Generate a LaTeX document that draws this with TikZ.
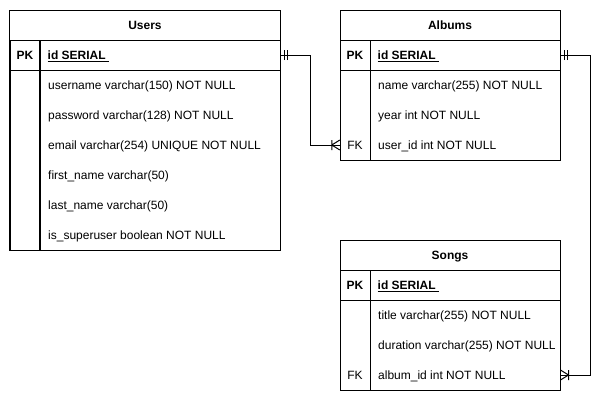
\documentclass[tikz,border=0pt]{standalone}
\usepackage{fontspec}
\setmainfont{Liberation Sans}
\usepackage{tikz}
\usetikzlibrary{positioning,decorations.markings}
\newcommand{\tblfont}{\fontsize{12bp}{14bp}\selectfont}
\tikzset{
  tblhead/.style={draw, line width=1bp, minimum height=30bp, font=\tblfont\bfseries, inner sep=0pt, text height=10bp, text depth=1.5bp},
  cell/.style={draw, line width=1bp, inner sep=0pt},
  keycell/.style={minimum width=30bp, minimum height=30bp, inner sep=0pt, text height=10bp, text depth=1.5bp},
  keybold/.style={font=\tblfont\bfseries},
  field/.style={anchor=west, inner sep=0pt, text height=10bp, text depth=1.5bp},
  pkfield/.style={field, font=\tblfont\bfseries},
  conn/.style={line width=1bp},
  mandone/.style={postaction={decorate, decoration={markings,
      mark=at position 4bp with {\draw[line width=1bp] (0,-5bp) -- (0,5bp);},
      mark=at position 7bp with {\draw[line width=1bp] (0,-5bp) -- (0,5bp);}}}},
  onemany/.style={postaction={decorate, decoration={markings,
      mark=at position -8bp with {\draw[line width=1bp] (0,-5bp) -- (0,5bp) (0,0) -- (8bp,5bp) (0,0) -- (8bp,-5bp);}}}}
}
\begin{document}
\begin{tikzpicture}[x=1bp, y=-1bp, font=\tblfont]
\useasboundingbox (0,0) rectangle (610,401);
% Users
\node[tblhead, minimum width=270bp] (users) at (145,25) {Users};
\node[cell, keycell, keybold] (upkk) at (25,55) {PK};
\node[cell, minimum width=240bp, minimum height=30bp] (upk) at (160,55) {};
\node[pkfield, right=8bp of upk.west] (upkname) {\underline{id SERIAL\ }};
\node[cell, keycell, minimum height=180bp] (ukeys) at (25,160) {};
\node[cell, minimum width=240bp, minimum height=180bp] (ubody) at (160,160) {};
\node[field] (u1) at (48,85) {username varchar(150) NOT NULL};
\node[field] (u2) at (48,115) {password varchar(128) NOT NULL};
\node[field] (u3) at (48,145) {email varchar(254) UNIQUE NOT NULL};
\node[field] (u4) at (48,175) {first\_name varchar(50)};
\node[field] (u5) at (48,205) {last\_name varchar(50)};
\node[field] (u6) at (48,235) {is\_superuser boolean NOT NULL};
% Albums
\node[tblhead, minimum width=220bp] (albums) at (450,25) {Albums};
\node[cell, keycell, keybold] (apkk) at (355,55) {PK};
\node[cell, minimum width=190bp, minimum height=30bp] (apk) at (465,55) {};
\node[pkfield, right=8bp of apk.west] (apkname) {\underline{id SERIAL\ }};
\node[cell, keycell, minimum height=90bp] (akeys) at (355,115) {};
\node[cell, minimum width=190bp, minimum height=90bp] (abody) at (465,115) {};
\node[field] (a1) at (378,85) {name varchar(255) NOT NULL};
\node[field] (a2) at (378,115) {year int NOT NULL};
\node[field] (a3) at (378,145) {user\_id int NOT NULL};
\node[keycell] (afk) at (355,145) {FK};
% Songs
\node[tblhead, minimum width=220bp] (songs) at (450,255) {Songs};
\node[cell, keycell, keybold] (spkk) at (355,285) {PK};
\node[cell, minimum width=190bp, minimum height=30bp] (spk) at (465,285) {};
\node[pkfield, right=8bp of spk.west] (spkname) {\underline{id SERIAL\ }};
\node[cell, keycell, minimum height=90bp] (skeys) at (355,345) {};
\node[cell, minimum width=190bp, minimum height=90bp] (sbody) at (465,345) {};
\node[field] (s1) at (378,315) {title varchar(255) NOT NULL};
\node[field] (s2) at (378,345) {duration varchar(255) NOT NULL};
\node[field] (s3) at (378,375) {album\_id int NOT NULL};
\node[keycell] (sfk) at (355,375) {FK};
% relations
\draw[conn, mandone, onemany] (upk.east) -- ++(30,0) |- (afk.west);
\draw[conn, mandone, onemany] (apk.east) -- ++(30,0) |- (sbody.east |- sfk);
\end{tikzpicture}
\end{document}
